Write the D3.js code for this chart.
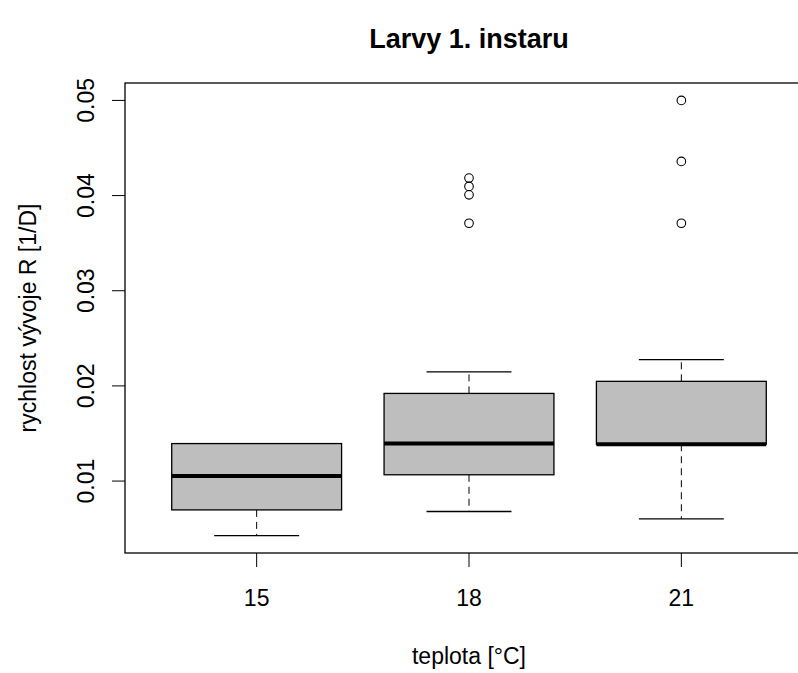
<!DOCTYPE html>
<html>
<head>
<meta charset="utf-8">
<script src="https://cdn.jsdelivr.net/npm/d3@7"></script>
<style>
  body { margin: 0; background: #fff; }
  svg { display: block; font-family: "Liberation Sans", Arial, sans-serif; }
</style>
</head>
<body>
<svg id="chart" width="798" height="673"></svg>
<script>
// values (rychlost vyvoje = 1/days)
const groups = ["15", "18", "21"];
const whiskerLow = [0.00427, 0.0068, 0.00602];
const quart1 = [0.00697, 0.01066, 0.01387];
const medians = [0.01053, 0.01394, 0.01387];
const quart3 = [0.01394, 0.01921, 0.02048];
const whiskerHigh = [0.01394, 0.02147, 0.02277];
const outliers = [[], [0.04184, 0.04096, 0.04008, 0.03709], [0.05, 0.04359, 0.03709]];
const yTicks = [0.01, 0.02, 0.03, 0.04, 0.05];

const svg = d3.select("#chart");
const plotL = 125, plotR = 813, plotT = 83, plotB = 553;
const fs = 23;

// R style 4% padding around data range
let allVals = whiskerLow.concat(whiskerHigh, outliers.flat());
let lo = d3.min(allVals), hi = d3.max(allVals);
let pad = (hi - lo) * 0.04;
let y = d3.scaleLinear().domain([lo - pad, hi + pad]).range([plotB, plotT]);
let x = d3.scaleLinear().domain([0.38, 3.62]).range([plotL, plotR]);
let bw = (x(1) - x(0)) * 0.8;

// title
svg.append("text")
    .attr("x", (plotL + plotR) / 2).attr("y", 48)
    .attr("text-anchor", "middle")
    .attr("font-size", 27).attr("font-weight", "bold")
    .text("Larvy 1. instaru");

// boxes
let g = svg.append("g");
groups.forEach((grp, i) => {
    let cx = x(i + 1);
    // whiskers (dashed)
    g.append("line").attr("x1", cx).attr("x2", cx)
        .attr("y1", y(quart3[i])).attr("y2", y(whiskerHigh[i]))
        .attr("stroke", "#000").attr("stroke-dasharray", "7,5");
    g.append("line").attr("x1", cx).attr("x2", cx)
        .attr("y1", y(quart1[i])).attr("y2", y(whiskerLow[i]))
        .attr("stroke", "#000").attr("stroke-dasharray", "7,5");
    // staples
    [whiskerLow[i], whiskerHigh[i]].forEach(v => {
        g.append("line").attr("x1", cx - bw / 4).attr("x2", cx + bw / 4)
            .attr("y1", y(v)).attr("y2", y(v))
            .attr("stroke", "#000").attr("stroke-width", 1.3);
    });
    g.append("rect")
        .attr("x", cx - bw / 2).attr("width", bw)
        .attr("y", y(quart3[i])).attr("height", y(quart1[i]) - y(quart3[i]))
        .attr("fill", "#bebebe").attr("stroke", "#000").attr("stroke-width", 1.3);
    g.append("line").attr("x1", cx - bw / 2).attr("x2", cx + bw / 2)
        .attr("y1", y(medians[i])).attr("y2", y(medians[i]))
        .attr("stroke", "#000").attr("stroke-width", 4);
    g.selectAll(".o" + i).data(outliers[i]).enter().append("circle")
        .attr("cx", cx).attr("cy", d => y(d)).attr("r", 4.3)
        .attr("fill", "none").attr("stroke", "#000").attr("stroke-width", 1.1);
});

// frame
svg.append("rect")
    .attr("x", plotL).attr("y", plotT)
    .attr("width", plotR - plotL).attr("height", plotB - plotT)
    .attr("fill", "none").attr("stroke", "#000").attr("stroke-width", 1.3);

// x axis
let xa = svg.append("g");
groups.forEach((grp, i) => {
    xa.append("line").attr("x1", x(i + 1)).attr("x2", x(i + 1))
        .attr("y1", plotB).attr("y2", plotB + 14).attr("stroke", "#000");
    xa.append("text").attr("x", x(i + 1)).attr("y", 606)
        .attr("text-anchor", "middle").attr("font-size", fs).text(grp);
});

// y axis
let ya = svg.append("g");
yTicks.forEach(t => {
    ya.append("line").attr("x1", plotL - 13).attr("x2", plotL)
        .attr("y1", y(t)).attr("y2", y(t)).attr("stroke", "#000");
    ya.append("text")
        .attr("transform", "translate(94," + y(t) + ") rotate(-90)")
        .attr("text-anchor", "middle").attr("font-size", fs)
        .text(d3.format(".2f")(t));
});

// axis titles
svg.append("text")
    .attr("x", (plotL + plotR) / 2).attr("y", 664)
    .attr("text-anchor", "middle").attr("font-size", fs)
    .text("teplota [°C]");
svg.append("text")
    .attr("transform", "translate(36," + (plotT + plotB) / 2 + ") rotate(-90)")
    .attr("text-anchor", "middle").attr("font-size", fs)
    .text("rychlost vývoje R [1/D]");
</script>
</body>
</html>
